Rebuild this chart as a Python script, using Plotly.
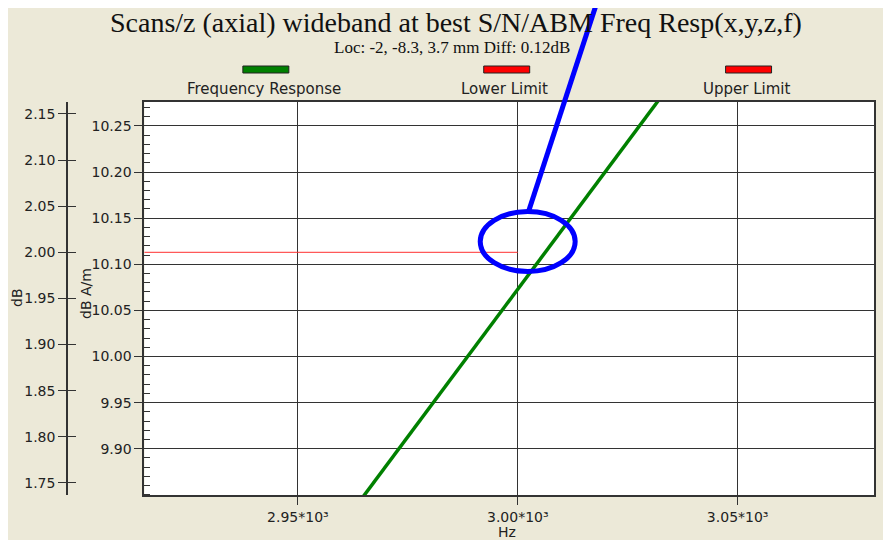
import plotly.graph_objects as go

# ---- data ----
freq_hz = [2960, 2970, 2980, 2990, 3000, 3010, 3020, 3030, 3040]
freq_response = [9.817, 9.881, 9.945, 10.009, 10.073, 10.137, 10.201, 10.265, 10.329]
limit_freq_hz = [2900, 3000]
lower_limit_db = [2.00, 2.00]

x_tickvals = [2950, 3000, 3050]
x_ticktext = ["2.95*10³", "3.00*10³", "3.05*10³"]
y_inner_ticks = [9.90, 9.95, 10.00, 10.05, 10.10, 10.15, 10.20, 10.25]
y_outer_ticks = [1.75, 1.80, 1.85, 1.90, 1.95, 2.00, 2.05, 2.10, 2.15]

legend_names = ["Frequency Response", "Lower Limit", "Upper Limit"]
legend_colors = ["#008000", "#FF0000", "#FF0000"]

title_text = "Scans/z (axial) wideband at best S/N/ABM Freq Resp(x,y,z,f)"
subtitle_text = "Loc: -2, -8.3, 3.7 mm Diff: 0.12dB"

# ---- layout geometry (screen pixels; the page has an 8px body offset) ----
OFF = 8
W, H = 891, 540
PLOT_L, PLOT_R, PLOT_T, PLOT_B = 144.5, 874.5, 102, 495  # screen coords
ML = 0
MT = PLOT_T - OFF
MB = H - (PLOT_B - OFF)
MR = W - (PLOT_R - OFF)
PW = W - ML - MR
PH = H - MT - MB


def px(x):
    return (x - OFF - ML) / PW


def py(y):
    return (H - MB - (y - OFF)) / PH


BG = "#ECE9D8"
AX = "#333333"
TICKFONT = dict(family="DejaVu Sans", size=14, color="#222222")
LEGFONT = dict(family="DejaVu Sans", size=15, color="#222222")

fig = go.Figure()
fig.add_trace(go.Scatter(x=freq_hz, y=freq_response, mode="lines",
                         line=dict(color="#008000", width=3.5),
                         name=legend_names[0], xaxis="x", yaxis="y"))
fig.add_trace(go.Scatter(x=limit_freq_hz, y=lower_limit_db, mode="lines",
                         line=dict(color="#FF3030", width=1),
                         name=legend_names[1], xaxis="x", yaxis="y2"))
fig.add_trace(go.Scatter(x=[None], y=[None], mode="lines", hoverinfo="skip",
                         name="ticks", xaxis="x", yaxis="y3"))

fig.update_layout(
    width=W, height=H,
    margin=dict(l=ML, r=MR, t=MT, b=MB, autoexpand=False),
    paper_bgcolor=BG, plot_bgcolor="white",
    showlegend=False,
    xaxis=dict(domain=[px(PLOT_L), 1], range=[2915.1, 3081.0],
               tickvals=x_tickvals, ticktext=x_ticktext,
               ticks="outside", ticklen=8, tickcolor=AX, tickfont=TICKFONT,
               showgrid=True, gridcolor=AX, gridwidth=1,
               showline=True, linecolor=AX, linewidth=2, mirror=True,
               zeroline=False, automargin=False),
    yaxis=dict(range=[9.8498, 10.276], tickvals=y_inner_ticks, tickformat=".2f",
               ticks="outside", ticklen=8, tickcolor=AX, tickfont=TICKFONT,
               minor=dict(ticks="inside", dtick=0.01, tick0=9.9, ticklen=6,
                          tickcolor=AX, showgrid=False),
               showgrid=True, gridcolor=AX, gridwidth=1,
               showline=True, linecolor=AX, linewidth=2, mirror=True,
               zeroline=False, automargin=False),
    yaxis2=dict(range=[1.7368, 2.163], tickvals=y_outer_ticks, tickformat=".2f",
                anchor="free", position=px(67), overlaying="y", side="left",
                ticks="outside", ticklen=8, tickcolor=AX, tickfont=TICKFONT,
                showgrid=False, zeroline=False,
                showline=True, linecolor=AX, linewidth=1.5, automargin=False),
    yaxis3=dict(range=[1.7368, 2.163], tickvals=y_outer_ticks,
                anchor="free", position=px(67), overlaying="y", side="left",
                ticks="inside", ticklen=8, tickcolor=AX, showticklabels=False,
                showgrid=False, zeroline=False, showline=False, automargin=False),
)

shapes = []
legend_centers = [266, 507, 749]
annotations = [
    dict(text=title_text, x=px(456), y=py(23), xref="paper", yref="paper",
         showarrow=False, font=dict(family="Liberation Serif", size=28, color="#111111"),
         xanchor="center", yanchor="middle"),
    dict(text=subtitle_text, x=px(452), y=py(47), xref="paper", yref="paper",
         showarrow=False, font=dict(family="Liberation Serif", size=17, color="#111111"),
         xanchor="center", yanchor="middle"),
    dict(text="Hz", x=px(507), y=py(532), xref="paper", yref="paper",
         showarrow=False, font=TICKFONT, xanchor="center", yanchor="middle"),
    dict(text="dB", x=px(17), y=py(297), xref="paper", yref="paper", textangle=-90,
         showarrow=False, font=TICKFONT, xanchor="center", yanchor="middle"),
    dict(text="dB A/m", x=px(86), y=py(293), xref="paper", yref="paper", textangle=-90,
         showarrow=False, font=TICKFONT, xanchor="center", yanchor="middle"),
]
for name, color, cx in zip(legend_names, legend_colors, legend_centers):
    shapes.append(dict(type="rect", xref="paper", yref="paper",
                       x0=px(cx - 23), x1=px(cx + 23), y0=py(73), y1=py(66),
                       fillcolor=color, line=dict(color="#222222", width=1)))
    annotations.append(dict(text=name, x=px(cx - 2), y=py(89), xref="paper", yref="paper",
                            showarrow=False, font=LEGFONT,
                            xanchor="center", yanchor="middle"))

# blue highlight drawn on top
shapes.append(dict(type="line", xref="paper", yref="paper",
                   x0=px(600), y0=py(-6), x1=px(529), y1=py(211),
                   line=dict(color="#0000FF", width=5), layer="above"))
shapes.append(dict(type="circle", xref="paper", yref="paper",
                   x0=px(480.5), x1=px(575.5), y0=py(271.5), y1=py(211.5),
                   line=dict(color="#0000FF", width=5), layer="above"))

fig.update_layout(shapes=shapes, annotations=annotations)
fig.write_html("out.html")
